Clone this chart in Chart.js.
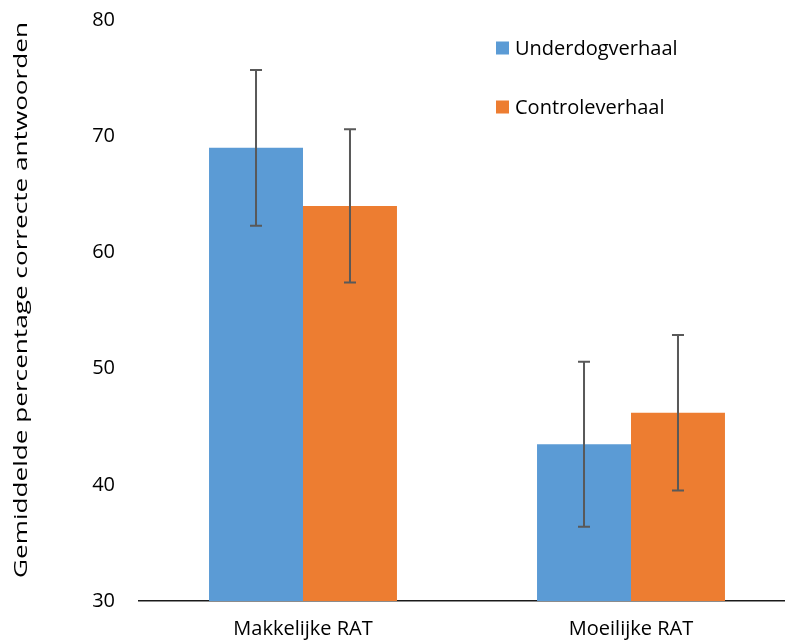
<!DOCTYPE html>
<html>
<head>
<meta charset="utf-8">
<script src="https://cdn.jsdelivr.net/npm/chart.js@4"></script>
<style>
  html, body { margin: 0; padding: 0; background: #fff; overflow: hidden; }
  #wrap { width: 800px; height: 643px; }
</style>
</head>
<body>
<div id="wrap"><canvas id="chart" width="800" height="643"></canvas></div>
<script>
const categories = ['Makkelijke RAT', 'Moeilijke RAT'];
const underdogValues = [69.0, 43.5];
const underdogErrors = [6.7, 7.1];
const controleValues = [64.0, 46.2];
const controleErrors = [6.6, 6.7];
const yTicks = [30, 40, 50, 60, 70, 80];
const yTitle = 'Gemiddelde percentage correcte antwoorden';

const FONT = '"Open Sans", sans-serif';

// error bars drawn through the y scale
const errorBars = {
  id: 'errorBars',
  afterDatasetsDraw(chart) {
    const ctx = chart.ctx;
    const y = chart.scales.y;
    ctx.save();
    ctx.strokeStyle = '#595959';
    ctx.lineWidth = 2;
    chart.data.datasets.forEach((ds, i) => {
      const meta = chart.getDatasetMeta(i);
      meta.data.forEach((bar, j) => {
        const v = ds.data[j];
        const e = ds.errors[j];
        const top = y.getPixelForValue(v + e);
        const bot = y.getPixelForValue(v - e);
        ctx.beginPath();
        ctx.moveTo(bar.x, top);
        ctx.lineTo(bar.x, bot);
        ctx.moveTo(bar.x - 6, top);
        ctx.lineTo(bar.x + 6, top);
        ctx.moveTo(bar.x - 6, bot);
        ctx.lineTo(bar.x + 6, bot);
        ctx.stroke();
      });
    });
    ctx.restore();
  }
};

// legend stacked vertically at top right
const sideLegend = {
  id: 'sideLegend',
  afterDraw(chart) {
    const ctx = chart.ctx;
    ctx.save();
    ctx.font = '20px ' + FONT;
    ctx.textBaseline = 'middle';
    chart.data.datasets.forEach((ds, i) => {
      const cy = 48 + i * 59;
      ctx.fillStyle = ds.backgroundColor;
      ctx.fillRect(496, cy - 6.5, 13, 13);
      ctx.fillStyle = '#000';
      ctx.fillText(ds.label, 515, cy + 1);
    });
    ctx.restore();
  }
};

// y title, stretched along its length like the original
const yTitlePlugin = {
  id: 'yTitlePlugin',
  afterDraw(chart) {
    const ctx = chart.ctx;
    ctx.save();
    ctx.font = '18px ' + FONT;
    const w = ctx.measureText(yTitle).width;
    ctx.translate(22, 300);
    ctx.rotate(-Math.PI / 2);
    ctx.scale(556 / w, 1);
    ctx.fillStyle = '#000';
    ctx.textAlign = 'center';
    ctx.textBaseline = 'middle';
    ctx.fillText(yTitle, 0, 0);
    ctx.restore();
  }
};

new Chart(document.getElementById('chart'), {
  type: 'bar',
  data: {
    labels: categories,
    datasets: [
      { label: 'Underdogverhaal', data: underdogValues, errors: underdogErrors, backgroundColor: '#5B9BD5' },
      { label: 'Controleverhaal', data: controleValues, errors: controleErrors, backgroundColor: '#ED7D31' },
    ],
  },
  options: {
    responsive: false,
    animation: false,
    layout: { padding: { top: 20, right: 5, left: 0, bottom: 0 } },
    datasets: { bar: { barPercentage: 1, categoryPercentage: 0.573 } },
    plugins: { legend: { display: false }, tooltip: { enabled: false } },
    scales: {
      x: {
        grid: { display: false, drawTicks: false },
        border: { display: true, color: '#1a1a1a', width: 1.5 },
        ticks: { color: '#000', font: { family: FONT, size: 20 }, padding: 16 },
        afterFit: (s) => { s.height = 42; s.paddingLeft = 0; s.paddingRight = 0; },
      },
      y: {
        min: 30,
        max: 80,
        afterBuildTicks: (s) => { s.ticks = yTicks.map((v) => ({ value: v })); },
        grid: { display: false, drawTicks: false },
        border: { display: false },
        ticks: { color: '#000', font: { family: FONT, size: 20 }, padding: 24 },
        afterFit: (s) => { s.width = 139; s.paddingTop = 0; s.paddingBottom = 0; },
      },
    },
  },
  plugins: [errorBars, sideLegend, yTitlePlugin],
});
</script>
</body>
</html>
